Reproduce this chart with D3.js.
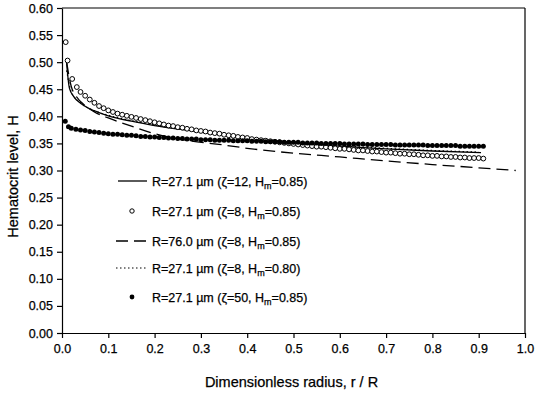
<!DOCTYPE html>
<html>
<head lang="en">
    <meta charset="UTF-8">
    <title></title>
    <script src="https://cdnjs.cloudflare.com/ajax/libs/d3/7.8.5/d3.min.js"></script>
    <style>
        body{margin:0;background:#fff;}
        svg text{font-family:"Liberation Sans",Arial,sans-serif;fill:#000;stroke:#000;stroke-width:0.25px;}
    </style>
</head>
<body>
<div id="tu1"></div>
<script>
    // common r/R grid for the symbol series
    var rGrid=[0.02,0.03,0.04,0.05,0.06,0.07,0.08,0.09,0.10,
        0.11,0.12,0.13,0.14,0.15,0.16,0.17,0.18,0.19,0.20,
        0.21,0.22,0.23,0.24,0.25,0.26,0.27,0.28,0.29,0.30,
        0.31,0.32,0.33,0.34,0.35,0.36,0.37,0.38,0.39,0.40,
        0.41,0.42,0.43,0.44,0.45,0.46,0.47,0.48,0.49,0.50,
        0.51,0.52,0.53,0.54,0.55,0.56,0.57,0.58,0.59,0.60,
        0.61,0.62,0.63,0.64,0.65,0.66,0.67,0.68,0.69,0.70,
        0.71,0.72,0.73,0.74,0.75,0.76,0.77,0.78,0.79,0.80,
        0.81,0.82,0.83,0.84,0.85,0.86,0.87,0.88,0.89,0.90,0.91];

    // R=27.1 um (zeta=8, Hm=0.85) - open circles
    var rOpen=[0.008,0.012,0.022,0.032].concat(rGrid.slice(2));
    var hOpen=[0.537,0.503,0.469,0.454,
        0.445,0.438,0.431,0.425,0.419,0.415,0.411,
        0.408,0.405,0.403,0.401,0.399,0.397,0.395,0.393,0.391,0.389,
        0.387,0.385,0.383,0.382,0.380,0.379,0.377,0.376,0.374,0.373,
        0.372,0.370,0.369,0.368,0.366,0.365,0.364,0.362,0.361,0.360,
        0.358,0.357,0.356,0.355,0.354,0.353,0.352,0.351,0.350,0.349,
        0.348,0.347,0.346,0.345,0.344,0.344,0.343,0.342,0.341,0.340,
        0.340,0.339,0.338,0.337,0.337,0.336,0.335,0.335,0.334,0.333,
        0.333,0.332,0.331,0.331,0.330,0.330,0.329,0.328,0.328,0.327,
        0.327,0.326,0.326,0.325,0.325,0.324,0.324,0.323,0.323,0.323,0.322];

    // R=27.1 um (zeta=50, Hm=0.85) - filled circles
    var rFill=[0.007,0.014].concat(rGrid);
    var hFill=[0.391,0.381,
        0.378,0.376,0.375,0.374,0.372,0.371,0.370,0.369,0.368,
        0.367,0.367,0.366,0.365,0.365,0.364,0.363,0.363,0.362,0.362,
        0.361,0.361,0.360,0.360,0.359,0.359,0.358,0.358,0.358,0.357,
        0.357,0.357,0.356,0.356,0.356,0.356,0.355,0.355,0.355,0.355,
        0.354,0.354,0.354,0.353,0.353,0.353,0.353,0.352,0.352,0.352,
        0.352,0.351,0.351,0.351,0.351,0.350,0.350,0.350,0.350,0.350,
        0.349,0.349,0.349,0.349,0.349,0.348,0.348,0.348,0.348,0.348,
        0.348,0.347,0.347,0.347,0.347,0.347,0.347,0.347,0.346,0.346,
        0.346,0.346,0.346,0.346,0.346,0.345,0.345,0.345,0.345,0.345,0.345];

    // R=27.1 um (zeta=12, Hm=0.85) - solid
    var rSolid=[0.010,0.016,0.025,0.04,0.06,0.08,0.10,0.15,0.20,0.30,0.40,0.50,0.60,0.70,0.80,0.905];
    var hSolid=[0.498,0.452,0.437,0.424,0.414,0.407,0.401,0.391,0.383,0.371,0.360,0.352,0.345,0.340,0.336,0.333];

    // R=76.0 um (zeta=8, Hm=0.85) - dashed
    var rDash=[0.010,0.02,0.03,0.05,0.07,0.10,0.15,0.20,0.26,0.35,0.40,0.50,0.60,0.68,0.80,0.90,0.98];
    var hDash=[0.500,0.455,0.438,0.420,0.408,0.397,0.382,0.368,0.357,0.347,0.341,0.332,0.325,0.319,0.311,0.305,0.300];

    // R=27.1 um (zeta=8, Hm=0.80) - dotted
    var rDot=[0.010,0.02,0.04,0.07,0.10,0.15,0.20,0.30,0.40,0.50,0.60,0.70,0.80,0.90];
    var hDot=[0.485,0.445,0.425,0.410,0.402,0.392,0.384,0.372,0.361,0.353,0.346,0.341,0.337,0.334];

    var xTicks=[0.0,0.1,0.2,0.3,0.4,0.5,0.6,0.7,0.8,0.9,1.0];
    var yTicks=[0.00,0.05,0.10,0.15,0.20,0.25,0.30,0.35,0.40,0.45,0.50,0.55,0.60];

    var legendLabels=[
        {R:'27.1',z:'12',hm:'0.85',type:'solid'},
        {R:'27.1',z:'8',hm:'0.85',type:'open'},
        {R:'76.0',z:'8',hm:'0.85',type:'dash'},
        {R:'27.1',z:'8',hm:'0.80',type:'dot'},
        {R:'27.1',z:'50',hm:'0.85',type:'fill'}
    ];

    var svgwidth=536,svgheight=395;
    var _margin={top:8,right:11,bottom:62,left:62};
    var w=svgwidth-_margin.left-_margin.right;
    var h=svgheight-_margin.top-_margin.bottom;

    var _svg=d3.select('#tu1').append('svg')
            .attr('width',svgwidth)
            .attr('height',svgheight);
    var g=_svg.append('g')
            .attr('transform','translate('+_margin.left+','+_margin.top+')');

    var x=d3.scaleLinear().domain([0,1]).range([0,w]);
    var y=d3.scaleLinear().domain([0,0.6]).range([h,0]);

    // frame top/right
    g.append('line').attr('x1',0).attr('x2',w).attr('y1',0).attr('y2',0)
            .attr('stroke','#000').attr('stroke-width',1.2);
    g.append('line').attr('x1',w).attr('x2',w).attr('y1',0).attr('y2',h)
            .attr('stroke','#000').attr('stroke-width',1.2);

    var gx=g.append('g').attr('transform','translate(0,'+h+')')
            .call(d3.axisBottom(x).tickValues(xTicks).tickFormat(d3.format('.1f'))
                    .tickSize(5).tickSizeOuter(0).tickPadding(6));
    var gy=g.append('g')
            .call(d3.axisLeft(y).tickValues(yTicks).tickFormat(d3.format('.2f'))
                    .tickSize(5).tickSizeOuter(0).tickPadding(4));
    [gx,gy].forEach(function(a){
        a.selectAll('path,line').attr('stroke','#000').attr('stroke-width',1.2);
        a.selectAll('text').attr('font-size',12.5).attr('font-family','"Liberation Sans",Arial,sans-serif');
    });

    // axis titles
    _svg.append('text')
            .attr('x',_margin.left+x(0.5)-2).attr('y',387)
            .attr('text-anchor','middle').attr('font-size',14.5)
            .text('Dimensionless radius, r / R');
    _svg.append('text')
            .attr('transform','translate(18,'+(_margin.top+y(0.3)+6)+') rotate(-90)')
            .attr('text-anchor','middle').attr('font-size',14.5)
            .text('Hematocrit level, H');

    function lineOf(rs,hs){
        return d3.line()
                .x(function(d){return x(d[0]);})
                .y(function(d){return y(d[1]);})
                .curve(d3.curveMonotoneX)(d3.zip(rs,hs));
    }
    g.append('path').attr('d',lineOf(rDot,hDot))
            .attr('fill','none').attr('stroke','#000').attr('stroke-width',1.2)
            .attr('stroke-dasharray','1.5,2.5');
    g.append('path').attr('d',lineOf(rDash,hDash))
            .attr('fill','none').attr('stroke','#000').attr('stroke-width',1.3)
            .attr('stroke-dasharray','12,6');
    g.append('path').attr('d',lineOf(rSolid,hSolid))
            .attr('fill','none').attr('stroke','#000').attr('stroke-width',1.3);

    g.append('g').selectAll('circle').data(d3.zip(rOpen,hOpen)).enter()
            .append('circle')
            .attr('cx',function(d){return x(d[0]);})
            .attr('cy',function(d){return y(d[1]);})
            .attr('r',2.4)
            .attr('fill','#fff').attr('stroke','#000').attr('stroke-width',1);
    g.append('g').selectAll('circle').data(d3.zip(rFill,hFill)).enter()
            .append('circle')
            .attr('cx',function(d){return x(d[0]);})
            .attr('cy',function(d){return y(d[1]);})
            .attr('r',2.5)
            .attr('fill','#000');

    // legend
    var legY=[181,211,241,268,297];
    var lg=_svg.append('g');
    legendLabels.forEach(function(d,i){
        var yy=legY[i];
        if(d.type==='solid'){
            lg.append('line').attr('x1',118).attr('x2',147).attr('y1',yy).attr('y2',yy)
                    .attr('stroke','#000').attr('stroke-width',1.3);
        }else if(d.type==='dash'){
            lg.append('line').attr('x1',116).attr('x2',147).attr('y1',yy).attr('y2',yy)
                    .attr('stroke','#000').attr('stroke-width',1.3).attr('stroke-dasharray','12,6');
        }else if(d.type==='dot'){
            lg.append('line').attr('x1',116).attr('x2',147).attr('y1',yy).attr('y2',yy)
                    .attr('stroke','#000').attr('stroke-width',1.2).attr('stroke-dasharray','1.5,2.5');
        }else if(d.type==='open'){
            lg.append('circle').attr('cx',132).attr('cy',yy).attr('r',2.2)
                    .attr('fill','#fff').attr('stroke','#000').attr('stroke-width',1);
        }else{
            lg.append('circle').attr('cx',132).attr('cy',yy).attr('r',2.4).attr('fill','#000');
        }
        var t=lg.append('text').attr('x',152).attr('y',yy+4.5).attr('font-size',12.5);
        t.append('tspan').text('R='+d.R+' \u00b5m (\u03b6='+d.z+', H');
        t.append('tspan').attr('font-size',9).attr('dy',3).text('m');
        t.append('tspan').attr('dy',-3).text('='+d.hm+')');
    });
</script>
</body>
</html>
